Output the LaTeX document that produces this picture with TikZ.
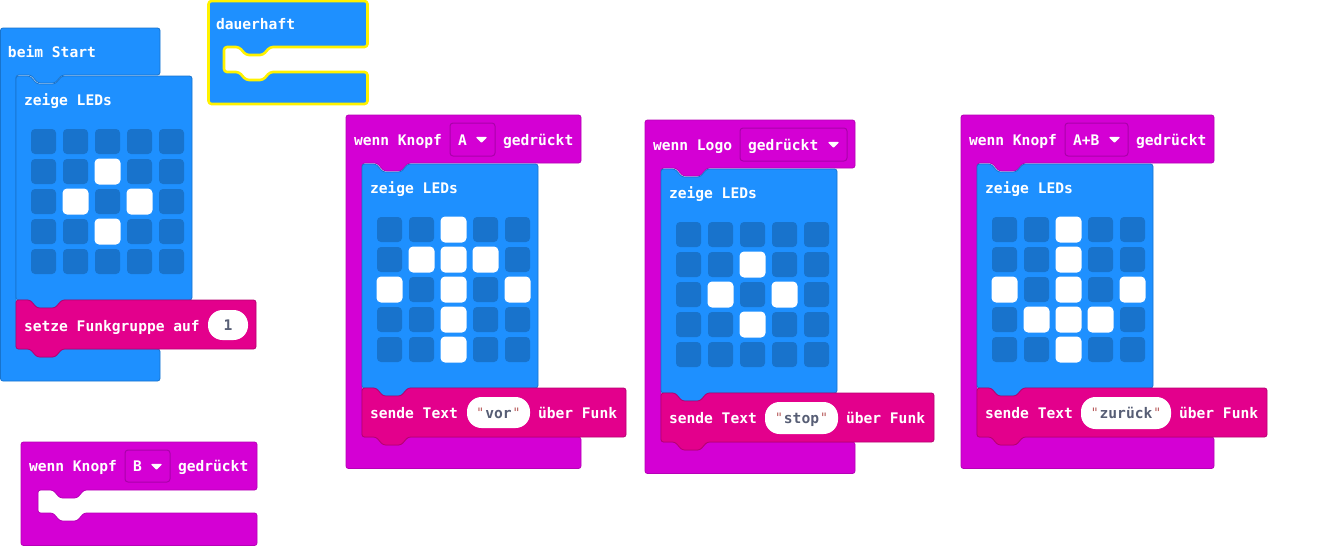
\documentclass[tikz,border=0pt]{standalone}
\usepackage{fontspec}
\newfontfamily\blkfont{DejaVu Sans Mono}[BoldFont={DejaVu Sans Mono Bold}]
\definecolor{blueblk}{HTML}{1E90FF}
\definecolor{blueedge}{HTML}{1873CC}
\definecolor{magblk}{HTML}{D400D4}
\definecolor{magedge}{HTML}{AA00AA}
\definecolor{redblk}{HTML}{E3008C}
\definecolor{rededge}{HTML}{B60070}
\definecolor{pilltext}{HTML}{575E75}
\definecolor{quotered}{HTML}{B85C5C}
\definecolor{glow}{HTML}{FFF200}
\tikzset{
  bluestyle/.style={fill=blueblk,draw=blueedge,line width=0.8pt,rounded corners=2.5pt,line join=round},
  magstyle/.style={fill=magblk,draw=magedge!70!magblk,line width=0.8pt,rounded corners=2.5pt,line join=round},
  redstyle/.style={fill=redblk,draw=rededge,line width=0.8pt,rounded corners=2.5pt,line join=round},
  glowstyle/.style={fill=blueblk,draw=glow,line width=2.6pt,rounded corners=3pt,line join=round},
  lbl/.style={anchor=base west,inner sep=0pt,outer sep=0pt,text=white,font=\blkfont\bfseries\fontsize{14.6}{16}\selectfont},
  pillstyle/.style={fill=white,draw=none},
  pilltxt/.style={anchor=base,inner sep=0pt,outer sep=0pt,text=pilltext,font=\blkfont\bfseries\fontsize{14.6}{16}\selectfont},
  dropstyle/.style={fill=magblk,draw=magedge,line width=1pt,rounded corners=3pt},
  ledoff/.style={fill=blueedge,draw=none,rounded corners=4pt},
  ledon/.style={fill=white,draw=none,rounded corners=4.5pt},
  tri/.style={fill=white,draw=white,line width=1.2pt,line join=round},
}
% x1,y1,x2,headbottom,innerx,foottop,bottom,style
\newcommand{\hatblk}[8]{%
  \path[#8] (#1,#2) -- (#3,#2) -- (#3,#4) -- (#5+46,#4) -- (#5+39,#4+8) -- (#5+22,#4+8) -- (#5+15,#4)
    -- (#5,#4) -- (#5,#6) -- (#5+15,#6) -- (#5+22,#6+8) -- (#5+39,#6+8) -- (#5+46,#6)
    -- (#3,#6) -- (#3,#7) -- (#1,#7) -- cycle;}
% x1,y1,x2,y2,style
\newcommand{\stmtblk}[5]{%
  \path[#5] (#1,#2) -- (#1+14,#2) -- (#1+21,#2+8) -- (#1+39,#2+8) -- (#1+46,#2) -- (#3,#2) -- (#3,#4)
    -- (#1+46,#4) -- (#1+39,#4+8) -- (#1+21,#4+8) -- (#1+14,#4) -- (#1,#4) -- cycle;}
% x,y of first cell, list of r/c lit
\newcommand{\ledgrid}[3]{%
  \foreach \rr in {0,...,4}{\foreach \cc in {0,...,4}{
    \path[ledoff] (#1+\cc*32,#2+\rr*30) rectangle ++(25,25);}}
  \foreach \rr/\cc in {#3}{
    \path[ledon] (#1+\cc*32-0.5,#2+\rr*30-0.5) rectangle ++(26,26);}}
% name,x1,y1,x2,y2
\newcommand{\pill}[5]{\path[pillstyle,rounded corners=14.5pt] (#2,#3) rectangle (#4,#5);}
% x1,y1,x2,y2
\newcommand{\dropbox}[4]{%
  \path[dropstyle] (#1,#2) rectangle (#3,#4);
  \path[tri] (#3-18,#2+14.5) -- (#3-9,#2+14.5) -- (#3-13.5,#2+19) -- cycle;}
\newcommand{\qt}[1]{\textcolor{quotered}{\mdseries\fontsize{13}{14}\selectfont\raisebox{1pt}{"}}\hspace{1pt}#1\hspace{1pt}\textcolor{quotered}{\mdseries\fontsize{13}{14}\selectfont\raisebox{1pt}{"}}}
\begin{document}
\begin{tikzpicture}[x=1pt,y=-1pt]
\useasboundingbox (0,0) rectangle (1319,546);
\fill[white] (0,0) rectangle (1319,546);

% beim Start
\hatblk{0.5}{28}{160}{75}{16}{349}{381}{bluestyle}
\node[lbl] (tStart) at (8,57) {beim Start};
\stmtblk{16}{76}{192}{300}{bluestyle}
\node[lbl] (tLeds1) at (24,105) {zeige LEDs};
\ledgrid{31}{129}{1/2,2/1,2/3,3/2}
\stmtblk{16}{300}{256}{349}{redstyle}
\node[lbl] (tFunk) at (24,331) {setze Funkgruppe auf};
\pill{p1}{208}{310}{248}{340}
\node[pilltxt] (tOne) at (228,330) {1};

% dauerhaft
\hatblk{208.5}{1}{367.5}{47}{224}{72}{104}{glowstyle}
\node[lbl] (tDauer) at (216,29) {dauerhaft};

% Knopf B
\hatblk{21}{442}{257}{490}{38}{513}{545.5}{magstyle}
\node[lbl] (tB1) at (29,471) {wenn Knopf};
\dropbox{125}{450}{170}{482}
\node[lbl] (tB2) at (133,471) {B};
\node[lbl] (tB3) at (178,471) {gedrückt};

% Knopf A
\hatblk{346}{115}{581}{163}{362}{437}{468.5}{magstyle}
\node[lbl] (tA1) at (354,145) {wenn Knopf};
\dropbox{450}{123}{495}{156}
\node[lbl] (tA2) at (458,145) {A};
\node[lbl] (tA3) at (503,145) {gedrückt};
\stmtblk{362}{164}{538}{388}{bluestyle}
\node[lbl] (tLeds2) at (370,193) {zeige LEDs};
\ledgrid{377}{217}{0/2,1/1,1/2,1/3,2/0,2/2,2/4,3/2,4/2}
\stmtblk{362}{388}{626}{437}{redstyle}
\node[lbl] (tA4) at (370,418) {sende Text};
\pill{p2}{467}{397}{530}{428}
\node[pilltxt] (tVor) at (498.5,418) {\qt{vor}};
\node[lbl] (tA5) at (538,418) {über Funk};

% Logo
\hatblk{645}{120}{855}{168}{661}{442}{473.5}{magstyle}
\node[lbl] (tL1) at (653,150) {wenn Logo};
\dropbox{740}{128}{847}{161}
\node[lbl] (tL2) at (748,150) {gedrückt};
\stmtblk{661}{169}{837}{393}{bluestyle}
\node[lbl] (tLeds3) at (669,198) {zeige LEDs};
\ledgrid{676}{222}{1/2,2/1,2/3,3/2}
\stmtblk{661}{393}{934}{442}{redstyle}
\node[lbl] (tL4) at (669,423) {sende Text};
\pill{p3}{765}{402}{838}{434}
\node[pilltxt] (tStop) at (801.5,423) {\qt{stop}};
\node[lbl] (tL5) at (846,423) {über Funk};

% Knopf A+B
\hatblk{961}{115}{1214}{163}{977}{437}{468.5}{magstyle}
\node[lbl] (tC1) at (969,145) {wenn Knopf};
\dropbox{1065}{123}{1128}{156}
\node[lbl] (tC2) at (1073,145) {A+B};
\node[lbl] (tC3) at (1136,145) {gedrückt};
\stmtblk{977}{164}{1153}{388}{bluestyle}
\node[lbl] (tLeds4) at (985,193) {zeige LEDs};
\ledgrid{992}{217}{0/2,1/2,2/0,2/2,2/4,3/1,3/2,3/3,4/2}
\stmtblk{977}{388}{1267}{437}{redstyle}
\node[lbl] (tC4) at (985,418) {sende Text};
\pill{p4}{1081}{397}{1171}{429}
\node[pilltxt] (tZur) at (1126,418) {\qt{zurück}};
\node[lbl] (tC5) at (1179,418) {über Funk};
\end{tikzpicture}
\end{document}
